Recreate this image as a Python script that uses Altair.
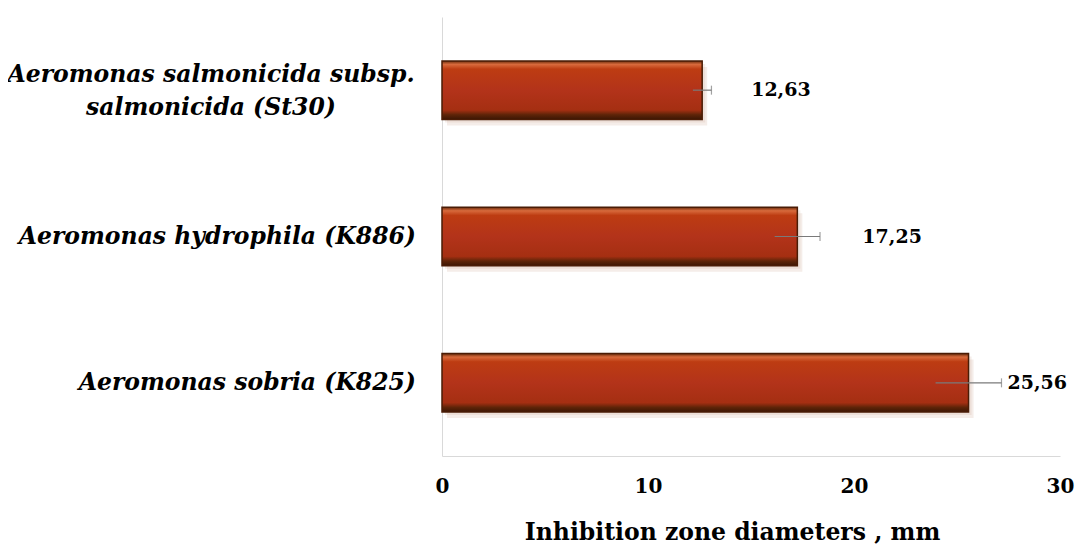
import altair as alt
import pandas as pd

strains = [
    "Aeromonas salmonicida subsp. salmonicida (St30)",
    "Aeromonas hydrophila (K886)",
    "Aeromonas sobria (K825)",
]
strain_labels = [
    "Aeromonas salmonicida subsp.\nsalmonicida (St30)",
    "Aeromonas hydrophila (K886)",
    "Aeromonas sobria (K825)",
]
diameters = [12.63, 17.25, 25.56]
errors = [0.45, 1.1, 1.6]
value_labels = ["12,63", "17,25", "25,56"]
x_ticks = [0, 10, 20, 30]

df = pd.DataFrame({
    "strain": strains,
    "name": strain_labels,
    "value": diameters,
    "err": errors,
    "label": value_labels,
})
df["lo"] = df["value"] - df["err"]
df["hi"] = df["value"] + df["err"]

SERIF = "DejaVu Serif"

x_scale = alt.Scale(domain=[0, 30], nice=False, zero=True)
y_enc = alt.Y(
    "strain:N",
    sort=strains,
    scale=alt.Scale(paddingInner=0.6, paddingOuter=0.3),
    axis=alt.Axis(labels=False, ticks=False, title=None, domainColor="#d9d9d9", domainWidth=1),
)

base = alt.Chart(df)

x_axis = alt.Axis(
    values=x_ticks,
    ticks=False,
    grid=False,
    domainColor="#d9d9d9",
    labelFont=SERIF,
    labelFontWeight="bold",
    labelFontSize=20,
    labelColor="#000000",
    labelPadding=20,
    labelFlush=False,
    title="Inhibition zone diameters , mm",
    titleFont=SERIF,
    titleFontWeight="bold",
    titleFontSize=23.5,
    titleColor="#000000",
    titlePadding=24,
    titleX=290,
)

shadow1 = base.mark_bar(color="#d9b8a8", opacity=0.25, xOffset=5, yOffset=6).encode(
    x=alt.X("value:Q", scale=x_scale, axis=x_axis), y=y_enc
)
shadow2 = base.mark_bar(color="#d9b8a8", opacity=0.25, xOffset=3, yOffset=3).encode(
    x=alt.X("value:Q", scale=x_scale), y=y_enc
)

grad = alt.Gradient(
    gradient="linear",
    x1=0, y1=0, x2=0, y2=1,
    stops=[
        alt.GradientStop(color="#6a2c0c", offset=0.0),
        alt.GradientStop(color="#d86a3c", offset=0.06),
        alt.GradientStop(color="#bd3c12", offset=0.14),
        alt.GradientStop(color="#b3331a", offset=0.5),
        alt.GradientStop(color="#a52f12", offset=0.84),
        alt.GradientStop(color="#5e2408", offset=0.92),
        alt.GradientStop(color="#3c1604", offset=1.0),
    ],
)

bars = base.mark_bar(color=grad, stroke="#4a1c06", strokeWidth=1.5).encode(
    x=alt.X("value:Q", scale=x_scale), y=y_enc
)

err_rule = base.mark_rule(color="#7a7a7a", strokeWidth=1.2).encode(
    x=alt.X("lo:Q", scale=x_scale), x2="hi:Q", y=y_enc
)
err_cap = base.mark_tick(color="#7a7a7a", thickness=1.2, size=9).encode(
    x=alt.X("hi:Q", scale=x_scale), y=y_enc
)

label_offsets = {strains[0]: 49, strains[1]: 65, strains[2]: 39}
value_text = [
    base.transform_filter(alt.datum.strain == s).mark_text(
        align="left", baseline="middle", dx=d, font=SERIF, fontWeight="bold",
        fontSize=19, color="#000000",
    ).encode(x=alt.X("value:Q", scale=x_scale), y=y_enc, text="label:N")
    for s, d in label_offsets.items()
]

name_single = base.transform_filter(alt.datum.strain != strains[0]).mark_text(
    align="right", baseline="middle", font=SERIF, fontWeight="bold", fontStyle="italic",
    fontSize=23.5, color="#000000", lineBreak="\n",
).encode(x=alt.value(-26), y=y_enc, text="name:N")

name_multi = base.transform_filter(alt.datum.strain == strains[0]).mark_text(
    align="center", baseline="middle", font=SERIF, fontWeight="bold", fontStyle="italic",
    fontSize=23.5, color="#000000", lineBreak="\n", lineHeight=33, dy=-15,
).encode(x=alt.value(-231), y=y_enc, text="name:N")

chart = alt.layer(
    shadow1, shadow2, bars, err_rule, err_cap, *value_text, name_single, name_multi
).properties(
    width=618,
    height=439,
    padding={"left": 434, "top": 9, "right": 15, "bottom": 89},
    autosize=alt.AutoSizeParams(type="none"),
    background="#ffffff",
).configure_view(stroke=None)

chart.save("out.html", embed_options={"renderer": "svg", "actions": False})
